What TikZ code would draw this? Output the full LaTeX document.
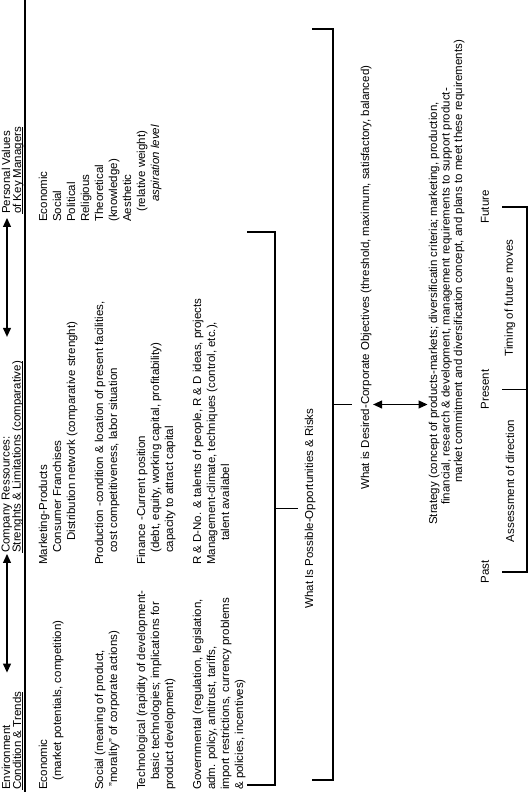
\documentclass[tikz,border=0pt]{standalone}
\usepackage{fontspec}
\setmainfont{Liberation Sans}
\usetikzlibrary{arrows.meta,positioning,calc}
\newcommand{\hd}[1]{\underline{\smash{#1}}}

\begin{document}
\begin{tikzpicture}[
  x=1pt, y=1pt, rotate=90, transform shape,
  font=\fontsize{11.5}{14}\selectfont, >={Triangle[length=9pt,width=8pt]},
  txt/.style={anchor=north west, align=left, inner sep=0pt},
  head/.style={txt, font=\fontsize{11.5}{11}\selectfont},
  para/.style={txt, font=\fontsize{11.5}{12.5}\selectfont},
  lbl/.style={inner sep=0pt},
  brk/.style={line width=1.6pt},
  twoway/.style={<->, line width=1.2pt},
  rule/.style={line width=1.3pt}]
  \useasboundingbox (0,0) rectangle (792,-528);
  % column heads
  \node[head] (env) at (2,-1.5)   {Environment\\\hd{Condition \& Trends}};
  \node[head] (res) at (239,-1.5) {Company Ressources:\\\hd{Strenghts \& Limitations (comparative)}};
  \node[head] (val) at (578,-1.5) {Personal Values\\\hd{of Key Managers}};
  \draw[twoway] ([shift={(19pt,-5.5pt)}]env.north east) -- ([shift={(-1pt,-5.5pt)}]res.north west);
  \draw[twoway] ([shift={(24pt,-5.5pt)}]res.north east) -- ([shift={(-4pt,-5.5pt)}]val.north west);
  \draw[rule] (0,-25) -- (792,-25);
  % environment
  \node[txt] (eco)  at (2,-38.5)  {Economic\\\hspace*{9pt}(market potentials, competition)};
  \node[txt] (soc)  at (2,-94.5)  {Social (meaning of product,\\\hspace*{3pt}"morality" of corporate actions)};
  \node[txt] (tech) at (2,-136.5) {Technological (rapidity of development-\\\hspace*{10pt}basic technologies; implications for\\product development)};
  \node[txt] (gov)  at (2,-192.5) {Governmental (regulation, legislation,\\adm. policy, antitrust, tariffs,\\import restrictions, currency problems\\\& policies, incentives)};
  % company resources
  \node[txt] (mkt)  at (227,-38.5)  {Marketing-Products\\\hspace*{12pt}Consumer Franchises\\\hspace*{24pt}Distribution network (comparative strenght)};
  \node[txt] (prod) at (227,-94.5)  {Production -condition \& location of present facilities,\\\hspace*{12pt}cost competitiveness, labor situation};
  \node[txt] (fin)  at (227,-136.5) {Finance -Current position\\\hspace*{12pt}(debt, equity, working capital, profitability)\\\hspace*{12pt}capacity to attract capital};
  \node[txt] (rnd)  at (227,-192.5) {R \& D-No. \& talents of people, R \& D ideas, projects};
  \node[txt] (mgmt) at (227,-206.5) {Management-climate, techniques (control, etc.),\\\hspace*{24pt}talent availabel};
  % personal values
  \node[txt] (pv) at (570,-38.5) {Economic\\Social\\Political\\Religious\\Theoretical\\(knowledge)\\Aesthetic\\
    \hspace*{10pt}(relative weight)\\\hspace*{20pt}\textit{aspiration level}};
  % what is possible
  \draw[brk] (560,-247) -- (560,-275) -- (7,-275) -- (7,-247);
  \coordinate (b1) at (283.5,-275);
  \node[lbl, anchor=north] (poss) at (283.5,-304.5) {What Is Possible-Opportunities \& Risks};
  \draw[brk] (b1) -- ($(poss.north)+(0,6.5)$);
  % what is desired
  \draw[brk] (763,-312) -- (763,-333) -- (12,-333) -- (12,-312);
  \coordinate (b2) at (387.5,-333);
  \node[txt] (desired) at (302,-360.5) {What is Desired-Corporate Objectives (threshold, maximum, satisfactory, balanced)};
  \draw[brk] (b2) -- ($(b2 |- desired.north)+(0,8.5)$);
  \node[para] (strat) at (267,-428.5) {Strategy (concept of products-markets; diversificatin criteria; marketing, production,\\
    \hspace*{20pt}financial, research \& development, management requirements to support product-\\
    \hspace*{42pt}market commitment and diversification concept, and plans to meet these requirements)};
  \draw[twoway, shorten <=1.5pt, shorten >=1pt] (b2 |- desired.south) -- (b2 |- strat.north);
  % time line
  \node[lbl] (past)    at (220,-485)   {Past};
  \node[lbl] (present) at (402.5,-485) {Present};
  \node[lbl] (future)  at (585,-485)   {Future};
  \coordinate (tp) at (220,-527);
  \coordinate (tn) at (402.5,-527);
  \coordinate (tf) at (585,-527);
  \draw[brk] ([yshift=25pt]tp) -- (tp) -- (tf) -- ([yshift=25pt]tf);
  \draw[brk] (tn) -- ++(0,25);
  \node[lbl] (assess) at (311,-510) {Assessment of direction};
  \node[lbl] (timing) at (494,-510) {Timing of future moves};
\end{tikzpicture}
\end{document}
